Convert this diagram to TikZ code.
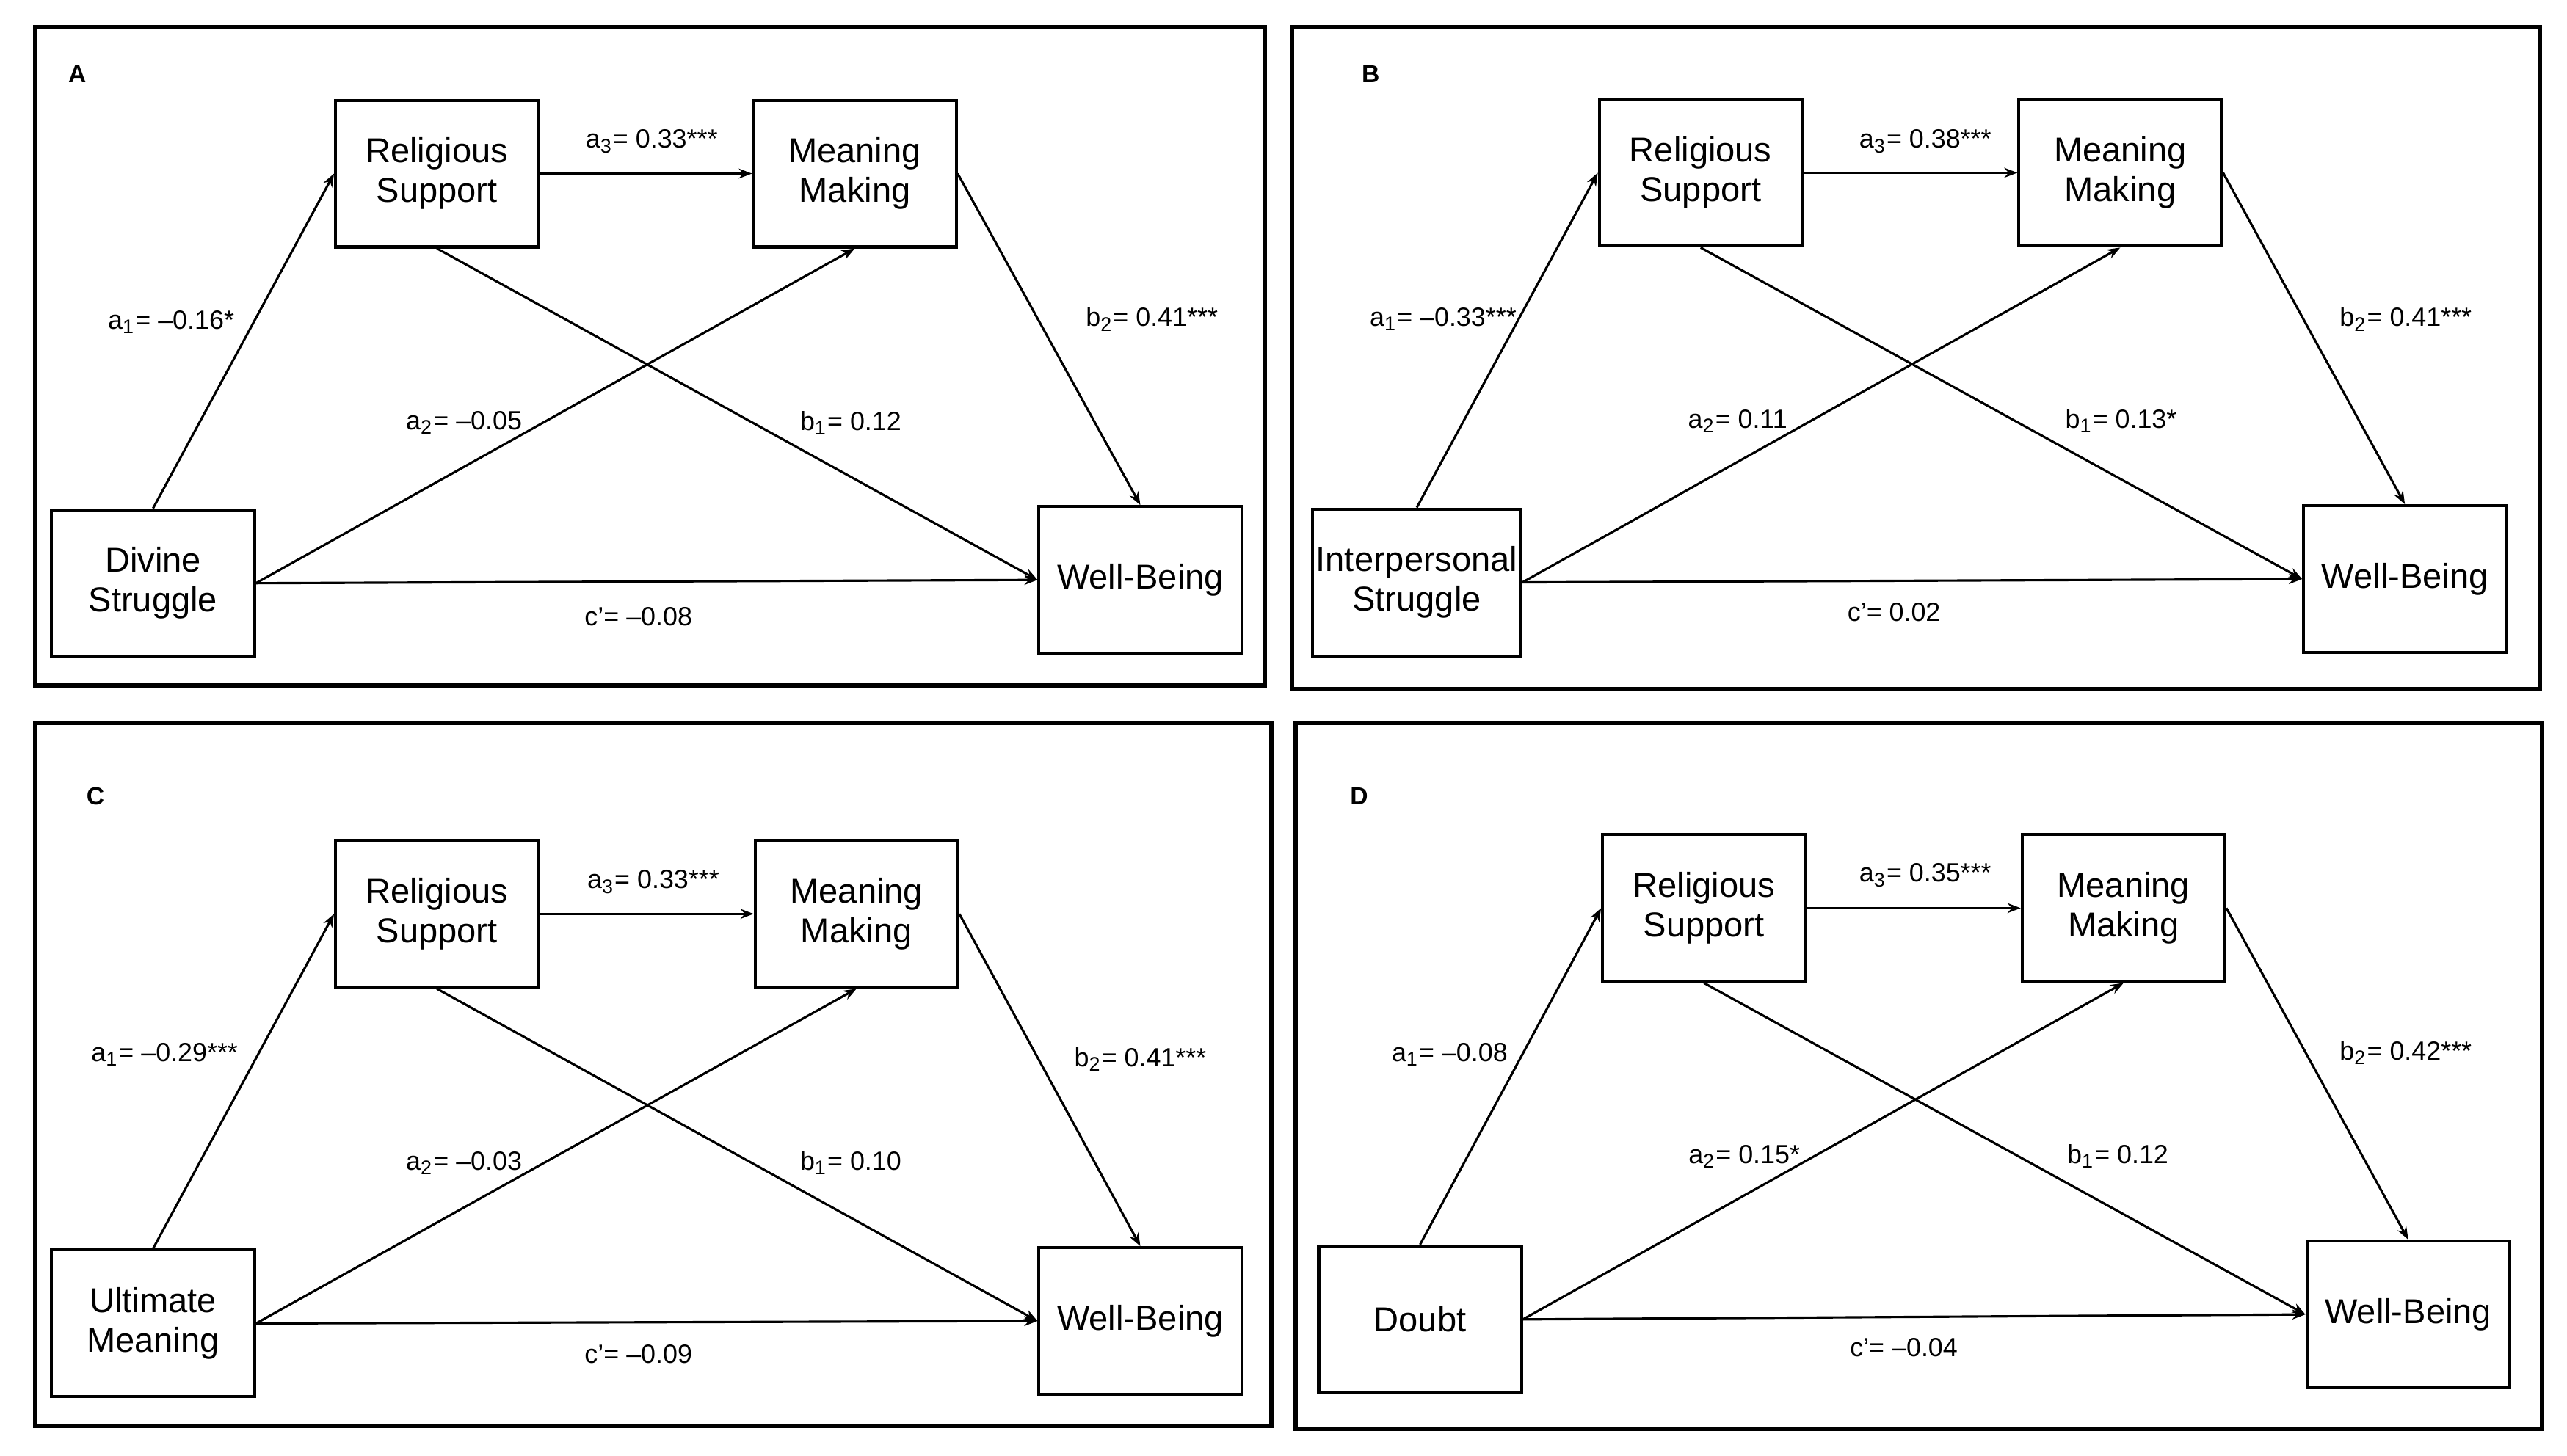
\documentclass[tikz,border=0pt]{standalone}
\usepackage{fontspec}
\setmainfont{Liberation Sans}
\usetikzlibrary{arrows.meta}
\begin{document}
\begin{tikzpicture}[x=0.5pt,y=-0.5pt,
  box/.style={draw,line width=0.9pt,minimum width=61.6pt,minimum height=44.6pt,align=center,font=\fontsize{10.5}{12}\selectfont,inner sep=1pt},
  frame/.style={draw,line width=1.3pt},
  lab/.style={font=\fontsize{8}{9}\selectfont,inner sep=1pt},
  plab/.style={font=\bfseries\fontsize{7.5}{9}\selectfont},
  arr/.style={-{Stealth[length=4pt,width=3pt]},line width=0.7pt}]
\useasboundingbox (0,0) rectangle (1560,885);
% ---------- Panel A
\node[frame,minimum width=373.7pt,minimum height=200.2pt] (fA) at (395,216.5) {};
\node[plab] (pA) at (47,45) {A};
\node[box] (rsA) at (265.5,105.5) {Religious\\Support};
\node[box] (mmA) at (519.5,105.5) {Meaning\\Making};
\node[box] (xA) at (93,354.5) {Divine\\Struggle};
\node[box] (wbA) at (693,352.5) {Well-Being};
\draw[arr] (xA.north) -- (rsA.west);
\draw[arr] (rsA.east) -- (mmA.west);
\draw[arr] (xA.east) -- (mmA.south);
\draw[arr] (xA.east) -- (wbA.west);
\draw[arr] (rsA.south) -- (wbA.west);
\draw[arr] (mmA.east) -- (wbA.north);
\node[lab] (a1A) at (104,196) {a\textsubscript{1}= –0.16*};
\node[lab] (a3A) at (396,86) {a\textsubscript{3}= 0.33***};
\node[lab] (b2A) at (700,194) {b\textsubscript{2}= 0.41***};
\node[lab] (a2A) at (282,257) {a\textsubscript{2}= –0.05};
\node[lab] (b1A) at (517,257) {b\textsubscript{1}= 0.12};
\node[lab] (cA) at (388,375) {c'= –0.08};
% ---------- Panel B
\node[frame,minimum width=379.2pt,minimum height=201.2pt] (fB) at (1164.5,217.5) {};
\node[plab] (pB) at (833,45) {B};
\node[box] (rsB) at (1033.5,105) {Religious\\Support};
\node[box] (mmB) at (1288.5,105) {Meaning\\Making};
\node[box] (xB) at (861,354) {Interpersonal\\Struggle};
\node[box] (wbB) at (1461.5,352) {Well-Being};
\draw[arr] (xB.north) -- (rsB.west);
\draw[arr] (rsB.east) -- (mmB.west);
\draw[arr] (xB.east) -- (mmB.south);
\draw[arr] (xB.east) -- (wbB.west);
\draw[arr] (rsB.south) -- (wbB.west);
\draw[arr] (mmB.east) -- (wbB.north);
\node[lab] (a1B) at (877,194) {a\textsubscript{1}= –0.33***};
\node[lab] (a3B) at (1170,86) {a\textsubscript{3}= 0.38***};
\node[lab] (b2B) at (1462,194) {b\textsubscript{2}= 0.41***};
\node[lab] (a2B) at (1056,256) {a\textsubscript{2}= 0.11};
\node[lab] (b1B) at (1289,256) {b\textsubscript{1}= 0.13*};
\node[lab] (cB) at (1151,372) {c'= 0.02};
% ---------- Panel C
\node[frame,minimum width=375.7pt,minimum height=213.7pt] (fC) at (397,653) {};
\node[plab] (pC) at (58,484) {C};
\node[box] (rsC) at (265.5,555.5) {Religious\\Support};
\node[box] (mmC) at (520.5,555.5) {Meaning\\Making};
\node[box] (xC) at (93,804.5) {Ultimate\\Meaning};
\node[box] (wbC) at (693,803) {Well-Being};
\draw[arr] (xC.north) -- (rsC.west);
\draw[arr] (rsC.east) -- (mmC.west);
\draw[arr] (xC.east) -- (mmC.south);
\draw[arr] (xC.east) -- (wbC.west);
\draw[arr] (rsC.south) -- (wbC.west);
\draw[arr] (mmC.east) -- (wbC.north);
\node[lab] (a1C) at (100,641) {a\textsubscript{1}= –0.29***};
\node[lab] (a3C) at (397,536) {a\textsubscript{3}= 0.33***};
\node[lab] (b2C) at (693,644) {b\textsubscript{2}= 0.41***};
\node[lab] (a2C) at (282,707) {a\textsubscript{2}= –0.03};
\node[lab] (b1C) at (517,707) {b\textsubscript{1}= 0.10};
\node[lab] (cC) at (388,823) {c'= –0.09};
% ---------- Panel D
\node[frame,minimum width=378.7pt,minimum height=214.7pt] (fD) at (1166,654) {};
\node[plab] (pD) at (826,484) {D};
\node[box] (rsD) at (1035.5,552) {Religious\\Support};
\node[box] (mmD) at (1290.5,552) {Meaning\\Making};
\node[box] (xD) at (863,802) {Doubt};
\node[box] (wbD) at (1463.5,799) {Well-Being};
\draw[arr] (xD.north) -- (rsD.west);
\draw[arr] (rsD.east) -- (mmD.west);
\draw[arr] (xD.east) -- (mmD.south);
\draw[arr] (xD.east) -- (wbD.west);
\draw[arr] (rsD.south) -- (wbD.west);
\draw[arr] (mmD.east) -- (wbD.north);
\node[lab] (a1D) at (881,641) {a\textsubscript{1}= –0.08};
\node[lab] (a3D) at (1170,532) {a\textsubscript{3}= 0.35***};
\node[lab] (b2D) at (1462,640) {b\textsubscript{2}= 0.42***};
\node[lab] (a2D) at (1060,703) {a\textsubscript{2}= 0.15*};
\node[lab] (b1D) at (1287,703) {b\textsubscript{1}= 0.12};
\node[lab] (cD) at (1157,819) {c'= –0.04};
\end{tikzpicture}
\end{document}
